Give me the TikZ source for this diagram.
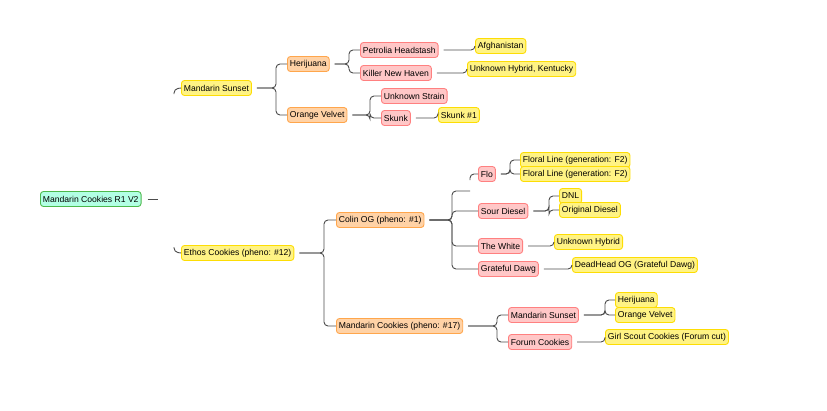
\documentclass[tikz,border=0pt]{standalone}
\usepackage{fontspec}
\setmainfont{Liberation Sans}
\begin{document}
\begin{tikzpicture}[x=1pt,y=-1pt,
 nd/.style={draw,rounded corners=3,anchor=west,inner xsep=2.5,inner ysep=2,minimum height=15,font=\fontsize{8.6}{10}\selectfont,line width=0.9},
 yl/.style={nd,fill=yellow!45!white!95!orange,draw=yellow!80!orange},
 og/.style={nd,fill=orange!35,draw=orange!70},
 rd/.style={nd,fill=red!22,draw=red!50},
 gr/.style={nd,fill=green!35!cyan!30,draw=green!60!black!70},
 conn/.style={draw=black!70,line width=0.9,rounded corners=4}]
\useasboundingbox (0,0) rectangle (827,410);
\node[gr] (root) at (40,199) {Mandarin Cookies R1 V2};
\node[yl] (ms) at (181,88) {Mandarin Sunset};
\node[yl] (ec) at (181,253) {Ethos Cookies (pheno: \#12)};
\node[og] (her) at (287,64) {Herijuana};
\node[og] (ov) at (287,115) {Orange Velvet};
\node[rd] (ph) at (360,50) {Petrolia Headstash};
\node[rd] (kn) at (360,73) {Killer New Haven};
\node[yl] (af) at (475,46) {Afghanistan};
\node[yl] (uk) at (467,69) {Unknown Hybrid, Kentucky};
\node[rd] (us) at (381,96) {Unknown Strain};
\node[rd] (sk) at (381,118) {Skunk};
\node[yl] (sk1) at (438,115) {Skunk \#1};
\node[og] (co) at (336,220) {Colin OG (pheno: \#1)};
\node[og] (mc) at (336,326) {Mandarin Cookies (pheno: \#17)};
\node[rd] (flo) at (478,174) {Flo};
\node[yl] (fl1) at (520,160) {Floral Line (generation: F2)};
\node[yl] (fl2) at (520,174) {Floral Line (generation: F2)};
\node[rd] (sd) at (478,211) {Sour Diesel};
\node[yl] (dnl) at (559,196) {DNL};
\node[yl] (od) at (559,210) {Original Diesel};
\node[rd] (tw) at (478,246) {The White};
\node[yl] (uh) at (554,242) {Unknown Hybrid};
\node[rd] (gd) at (478,269) {Grateful Dawg};
\node[yl] (dh) at (572,265) {DeadHead OG (Grateful Dawg)};
\node[rd] (ms2) at (508,315) {Mandarin Sunset};
\node[rd] (fc) at (508,342) {Forum Cookies};
\node[yl] (her2) at (615,300) {Herijuana};
\node[yl] (ov2) at (615,315) {Orange Velvet};
\node[yl] (gsc) at (605,337) {Girl Scout Cookies (Forum cut)};
% root
\draw[conn] ([xshift=6]root.east) -- ++(10,0);
\draw[conn] (174,94) -- (174,89) -- (ms.west);
\draw[conn] (174,247) -- (174,252) -- (ec.west);
% generic
\foreach \p/\c/\b in {ms/her/276,ms/ov/276,her/ph/349,her/kn/349,ov/us/370,ov/sk/370,ec/co/324,ec/mc/324,co/sd/452,co/gd/452,co/tw/452,mc/ms2/497,mc/fc/497,sd/dnl/549,sd/od/549,ms2/her2/605,ms2/ov2/605,flo/fl1/510,flo/fl2/510}
  \draw[conn] ([xshift=5]\p.east) -- (\b,0 |- \p.east) |- (\c.west);
\draw[conn] (co.east) ++(5,0) -- (452,220) |- (470,191);
\draw[conn] (470,180) -- (470,174) -- (flo.west);
\foreach \p/\c in {ph/af,kn/uk,sk/sk1,tw/uh,gd/dh,fc/gsc}
  \draw[conn] ([xshift=5]\p.east) -- (\c.west |- \p.east) -- (\c.west);
\end{tikzpicture}
\end{document}
